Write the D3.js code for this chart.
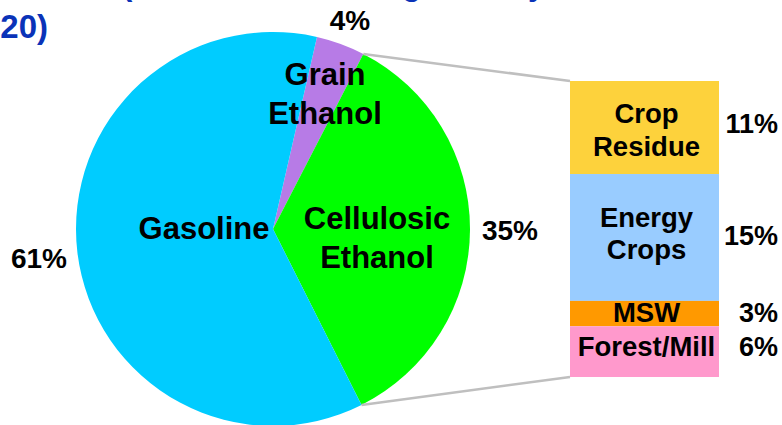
<!DOCTYPE html>
<html>
<head>
<meta charset="utf-8">
<script src="https://cdn.jsdelivr.net/npm/d3@7"></script>
<style>
  html, body { margin: 0; padding: 0; background: #fff; }
  svg { display: block; }
  text { font-family: "Liberation Sans", Arial, sans-serif; font-weight: bold; }
</style>
</head>
<body>
<svg id="chart" width="782" height="425"></svg>
<script>
// ---- data ----
const pieCategories = ["Grain Ethanol", "Cellulosic Ethanol", "Gasoline"];
const pieValues = [4, 35, 61];
const pieLabels = ["4%", "35%", "61%"];
const barCategories = ["Crop Residue", "Energy Crops", "MSW", "Forest/Mill"];
const barValues = [11, 15, 3, 6];
const barLabels = ["11%", "15%", "3%", "6%"];
const titleLine1 = ["Motor Fuel Market", "(Share of Total Usage Met by"];
const titleLine2 = "2020)";

const pieColors = ["#B77BE6", "#00FF00", "#00CCFF"];
const barColors = ["#FDD23C", "#99CCFF", "#FF9900", "#FF99CC"];

const svg = d3.select("#chart");

// ---- title (cropped by the frame) ----
svg.append("text").attr("x", 114).attr("y", -5.5).attr("text-anchor", "end")
  .attr("font-size", 32).attr("fill", "#0A33B8").text(titleLine1[0]);
svg.append("text").attr("x", 122).attr("y", -5.5).attr("text-anchor", "start")
  .attr("font-size", 31).attr("fill", "#0A33B8").text(titleLine1[1]);
svg.append("text").attr("x", 48).attr("y", 38).attr("text-anchor", "end")
  .attr("font-size", 33).attr("fill", "#0A33B8").text(titleLine2);

// ---- pie ----
const cx = 273, cy = 229, r = 197;
const start = 12.9 * Math.PI / 180;
const pie = d3.pie().sort(null).value(d => d).startAngle(start).endAngle(start + 2 * Math.PI);
const arcs = pie(pieValues);
const arc = d3.arc().innerRadius(0).outerRadius(r);
const g = svg.append("g").attr("transform", `translate(${cx},${cy})`);
g.selectAll("path").data(arcs).enter().append("path")
  .attr("d", arc).attr("fill", (d, i) => pieColors[i]);

// ---- bar (stacked breakdown of cellulosic) ----
const barX0 = 570, barX1 = 719, barTop = 81, barBottom = 377;
const total = d3.sum(barValues);
const yScale = d3.scaleLinear().domain([0, total]).range([barTop, barBottom]);
let cum = 0;
const stacks = barValues.map(v => { const s = { y0: cum, y1: cum + v }; cum += v; return s; });

// connector lines from cellulosic slice edges to bar corners
const cell = arcs[1];
const p0 = [cx + r * Math.sin(cell.startAngle), cy - r * Math.cos(cell.startAngle)];
const p1 = [cx + r * Math.sin(cell.endAngle), cy - r * Math.cos(cell.endAngle)];
svg.append("line").attr("x1", p0[0]).attr("y1", p0[1]).attr("x2", barX0).attr("y2", yScale(0))
  .attr("stroke", "#BFBFBF").attr("stroke-width", 2.5);
svg.append("line").attr("x1", p1[0]).attr("y1", p1[1]).attr("x2", barX0).attr("y2", yScale(total))
  .attr("stroke", "#BFBFBF").attr("stroke-width", 2.5);

svg.selectAll("rect.seg").data(stacks).enter().append("rect")
  .attr("class", "seg")
  .attr("x", barX0).attr("width", barX1 - barX0)
  .attr("y", d => yScale(d.y0)).attr("height", d => yScale(d.y1) - yScale(d.y0))
  .attr("fill", (d, i) => barColors[i]);

// bar labels
const barMid = (barX0 + barX1) / 2;
const barLabelFont = 27.5;
const barTextLines = [["Crop", "Residue"], ["Energy", "Crops"], ["MSW"], ["Forest/Mill"]];
const barTextBase = [[123, 156], [227, 259], [322], [356]];
barTextLines.forEach((lines, i) => {
  lines.forEach((t, j) => {
    svg.append("text").attr("x", barMid + 2).attr("y", barTextBase[i][j])
      .attr("text-anchor", "middle").attr("font-size", barLabelFont).attr("fill", "#000").text(t);
  });
});
const barPctBase = [133, 245, 322, 356];
barLabels.forEach((t, i) => {
  svg.append("text").attr("x", 778).attr("y", barPctBase[i]).attr("text-anchor", "end")
    .attr("font-size", 27).attr("fill", "#000").text(t);
});

// pie labels
const pieFont = 31;
const pieText = [
  { lines: ["Grain", "Ethanol"], x: 325, y: [85, 124] },
  { lines: ["Cellulosic", "Ethanol"], x: 377, y: [229, 268] },
  { lines: ["Gasoline"], x: 204, y: [239] }
];
pieText.forEach(p => {
  p.lines.forEach((t, j) => {
    svg.append("text").attr("x", p.x).attr("y", p.y[j]).attr("text-anchor", "middle")
      .attr("font-size", pieFont).attr("fill", "#000").text(t);
  });
});
const piePctPos = [[350, 30], [510, 240], [39, 268]];
pieLabels.forEach((t, i) => {
  svg.append("text").attr("x", piePctPos[i][0]).attr("y", piePctPos[i][1]).attr("text-anchor", "middle")
    .attr("font-size", 28).attr("fill", "#000").text(t);
});
</script>
</body>
</html>
